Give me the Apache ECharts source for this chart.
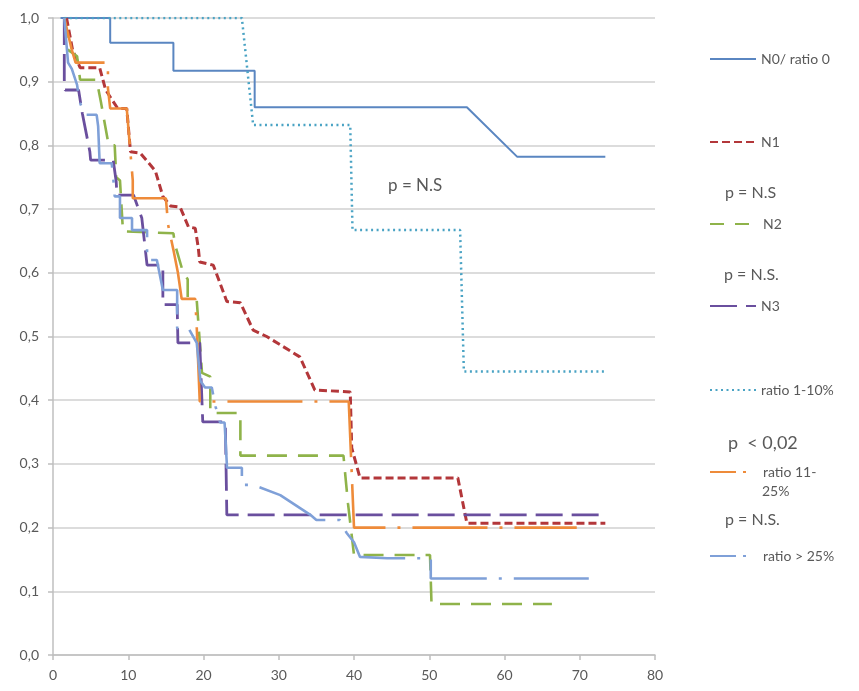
<!DOCTYPE html>
<html>
<head>
<meta charset="utf-8">
<script src="https://cdn.jsdelivr.net/npm/echarts@6/dist/echarts.min.js"></script>
<style>
  html, body { margin: 0; padding: 0; background: #fff; }
  #chart { width: 859px; height: 691px; }
</style>
</head>
<body>
<div id="chart"></div>
<script>
// ── Data (corner points of each survival curve) ────────────────────────────
const n0T = [1, 7.6, 7.6, 16, 16, 26.8, 26.8, 55, 61.7, 73.4];
const n0S = [1, 1, 0.961, 0.961, 0.917, 0.917, 0.86, 0.86, 0.782, 0.782];

const n1T = [1.8, 2.6, 3.6, 6.2, 7.0, 8.6, 9.8, 10.3, 11.6, 13.6, 14.6, 15.6, 16.9, 18.0, 18.9, 19.3, 19.5, 21.3, 23.1, 24.9, 26.6, 28.4, 32.8, 34.8, 39.5, 39.7, 40.8, 53.8, 55.0, 73.4];
const n1S = [1, 0.95, 0.922, 0.922, 0.887, 0.858, 0.858, 0.79, 0.788, 0.76, 0.72, 0.705, 0.703, 0.672, 0.67, 0.64, 0.617, 0.612, 0.555, 0.553, 0.51, 0.5, 0.468, 0.416, 0.413, 0.325, 0.278, 0.278, 0.207, 0.207];

const n2T = [1.5, 2, 3.2, 3.6, 5.8, 6.4, 7.4, 8.2, 8.4, 8.9, 9.3, 16, 16.2, 17.3, 17.9, 17.9, 19.1, 19.8, 20.9, 20.9, 24.9, 24.9, 38.6, 39.2, 40.0, 50.1, 50.3, 66.3];
const n2S = [1, 0.95, 0.94, 0.903, 0.903, 0.866, 0.8, 0.8, 0.75, 0.745, 0.665, 0.662, 0.645, 0.6, 0.59, 0.56, 0.557, 0.443, 0.437, 0.38, 0.38, 0.313, 0.313, 0.238, 0.157, 0.157, 0.08, 0.08];

const n3T = [1.5, 1.5, 1.6, 3.4, 3.9, 4.9, 5, 8, 8.4, 8.5, 10.7, 11.8, 12.5, 14.6, 14.6, 16.5, 16.6, 19.5, 19.9, 22.9, 23.1, 72.7];
const n3S = [1, 0.9, 0.887, 0.887, 0.85, 0.79, 0.777, 0.777, 0.743, 0.722, 0.722, 0.686, 0.612, 0.612, 0.55, 0.55, 0.49, 0.49, 0.366, 0.366, 0.22, 0.22];

const r1T = [1.5, 25.1, 26.6, 39.5, 39.8, 54.1, 54.6, 73.4];
const r1S = [1, 1, 0.832, 0.832, 0.667, 0.667, 0.445, 0.445];

const r2T = [1.5, 2.5, 3, 7.3, 7.3, 7.6, 9.8, 10.6, 10.6, 15.0, 15.3, 16.0, 16.6, 17.1, 18.9, 19.1, 19.5, 39.3, 40.0, 69.6];
const r2S = [1, 0.95, 0.93, 0.93, 0.89, 0.858, 0.858, 0.745, 0.717, 0.717, 0.675, 0.636, 0.6, 0.559, 0.559, 0.515, 0.398, 0.398, 0.2, 0.2];

const r3T = [1.5, 2, 2.5, 3.2, 3.5, 4.2, 5.8, 6, 6.2, 7.8, 8, 8.2, 8.9, 8.9, 10.5, 10.5, 12.5, 12.5, 13.8, 14.6, 16.5, 16.5, 18, 19.1, 19.6, 20.2, 21.1, 21.6, 22.2, 22.8, 23.1, 23.1, 25.1, 25.1, 26.6, 30.2, 34.2, 35, 38.1, 39, 40, 40.8, 44.4, 50.2, 50.2, 72.7];
const r3S = [1, 0.93, 0.92, 0.895, 0.87, 0.848, 0.848, 0.83, 0.772, 0.772, 0.75, 0.72, 0.72, 0.686, 0.686, 0.667, 0.667, 0.62, 0.62, 0.573, 0.573, 0.513, 0.513, 0.49, 0.43, 0.42, 0.42, 0.39, 0.365, 0.365, 0.3, 0.294, 0.294, 0.267, 0.267, 0.251, 0.22, 0.212, 0.212, 0.192, 0.177, 0.154, 0.152, 0.152, 0.12, 0.12];

const names = ['N0/ ratio 0', 'N1', 'N2', 'N3', 'ratio 1-10%', 'ratio 11-25%', 'ratio > 25%'];

const pts = (t, s) => t.map((v, i) => [v, s[i]]);
const FONT = 'Lato, "Open Sans", sans-serif';
const GREY = '#595959';

// ── Series ───────────────────────────────────────────────────────────────────
function line(name, t, s, color, type, width) {
    return {
        name: name,
        type: 'line',
        data: pts(t, s),
        symbol: 'none',
        silent: true,
        animation: false,
        lineStyle: { color: color, type: type, width: width },
        itemStyle: { color: color }
    };
}

const series = [
    line(names[0], n0T, n0S, '#5a86c1', 'solid', 2),
    line(names[1], n1T, n1S, '#b3373a', [8, 4], 3),
    line(names[2], n2T, n2S, '#8fb34a', [20, 11], 2.6),
    line(names[3], n3T, n3S, '#6a4f9e', [27, 9], 2.8),
    line(names[4], r1T, r1S, '#4aa3c4', [2, 3.5], 2.5),
    line(names[5], r2T, r2S, '#ee8b3a', [75, 12, 3, 12], 2.6),
    line(names[6], r3T, r3S, '#7fa0d8', [75, 12, 3, 12], 2.6)
];

// ── Legend (one box per entry, placed like the original) ────────────────────
const legendY = [60, 143, 225, 307, 391, 473, 557];
const legendDash = ['solid', [8, 4], [14, 11], [27, 9], [2, 3.5], [26, 7, 3, 12], [26, 7, 3, 12]];
const legendPad = [0, 0, 2, 0, 0, 2, 2];

const legends = names.map((n, i) => ({
    left: 709,
    top: legendY[i] - 8,
    padding: 0,
    itemWidth: 46,
    itemHeight: 16,
    selectedMode: false,
    formatter: nm => nm === 'ratio 11-25%' ? 'ratio 11-' : nm,
    textStyle: { color: GREY, fontSize: 14, fontFamily: FONT, padding: [0, 0, 0, legendPad[i]] },
    data: [{
        name: n,
        lineStyle: { type: legendDash[i] },
        itemStyle: { opacity: 0, borderWidth: 0 }
    }]
}));

// ── Free text ────────────────────────────────────────────────────────────────
function txt(x, y, text, size) {
    return {
        type: 'text', left: x, top: y,
        style: { text: text, fill: GREY, fontSize: size, fontFamily: FONT }
    };
}

const option = {
    backgroundColor: '#fff',
    animation: false,
    grid: { left: 53, right: 204, top: 18, bottom: 36 },
    xAxis: {
        type: 'value', min: 0, max: 80, interval: 10,
        axisLine: { lineStyle: { color: '#bfbfbf', width: 1.5 } },
        axisTick: { show: true, length: 5, lineStyle: { color: '#bfbfbf', width: 1.5 } },
        axisLabel: { color: GREY, fontSize: 14, fontFamily: FONT, margin: 13 },
        splitLine: { show: false }
    },
    yAxis: {
        type: 'value', min: 0, max: 1, interval: 0.1,
        axisLine: { show: true, lineStyle: { color: '#bfbfbf', width: 1.5 } },
        axisTick: { show: true, length: 5, lineStyle: { color: '#bfbfbf', width: 1.5 } },
        axisLabel: {
            color: GREY, fontSize: 14, fontFamily: FONT, margin: 14,
            formatter: v => v.toFixed(1).replace('.', ',')
        },
        splitLine: { lineStyle: { color: '#d0d0d0', width: 1.5 } }
    },
    legend: legends,
    graphic: [
        txt(388, 177, 'p = N.S', 17),
        txt(725, 185, 'p = N.S', 16),
        txt(724, 267, 'p = N.S.', 16),
        txt(728, 434, 'p  < 0,02', 18),
        txt(762, 484, '25%', 14),
        txt(725, 512, 'p = N.S.', 16)
    ],
    series: series
};

echarts.init(document.getElementById('chart')).setOption(option);
</script>
</body>
</html>
